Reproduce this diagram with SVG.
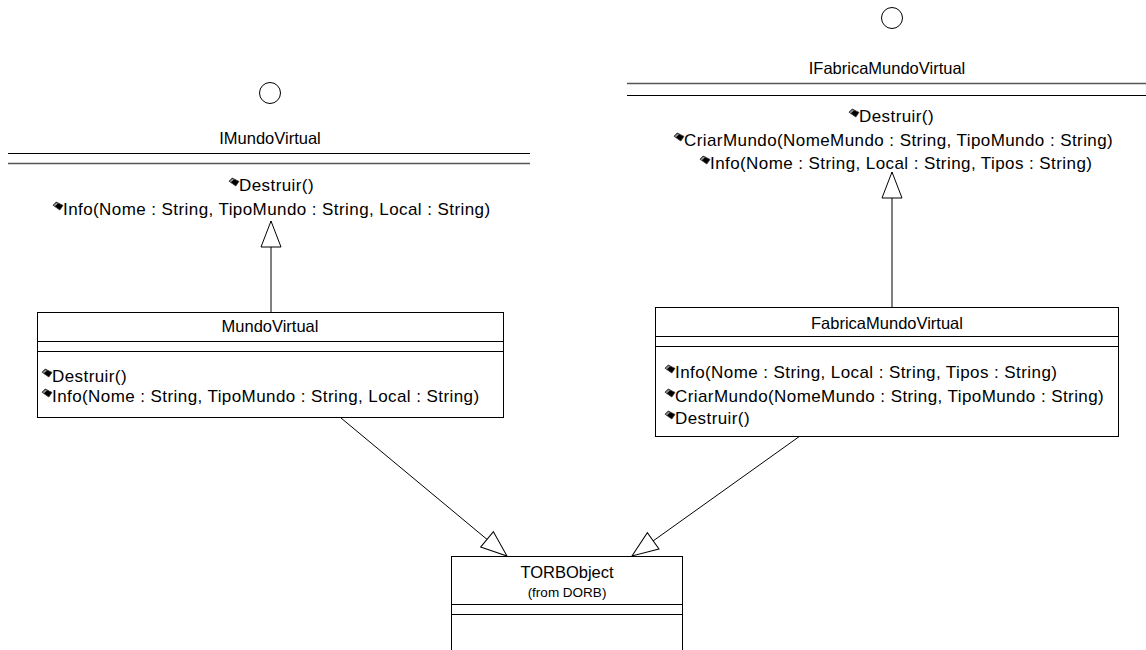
<svg xmlns="http://www.w3.org/2000/svg" width="1146" height="650" viewBox="0 0 1146 650">
<style>
text{font-family:"Liberation Sans",Arial,sans-serif;font-size:16.5px;fill:#000}
.c{text-anchor:middle}
.m{font-size:17px;letter-spacing:0.42px}
.s{font-size:13.5px}
.box{fill:#fff;stroke:#000;stroke-width:1}
.ln{stroke:#000;stroke-width:1;fill:none}
.ln2{stroke:#555;stroke-width:1.5;fill:none}
.edge{stroke:#000;stroke-width:1;fill:none;marker-end:url(#gen)}
</style>
<defs>
<marker id="gen" viewBox="0 0 28 22" markerWidth="28" markerHeight="22" refX="27" refY="11" markerUnits="userSpaceOnUse" orient="auto" overflow="visible">
<path d="M1,1 L27,11 L1,21 Z" fill="#fff" stroke="#000" stroke-width="1"/>
</marker>
<g id="op">
<path d="M0,3.2 L3.2,0 L10,3.4 L6.8,8 Z" fill="#000" stroke="#333" stroke-width="0.8" stroke-linejoin="round"/>
<path d="M0.6,3.2 L3.2,0.7 L5,1.6 L2,4.3 Z" fill="#999"/>
</g>
</defs>
<g id="connectors">
<line class="edge" x1="271" y1="312" x2="271" y2="221"/>
<line class="edge" x1="892" y1="307" x2="892" y2="172"/>
<line class="edge" x1="341" y1="418" x2="507" y2="556"/>
<line class="edge" x1="800" y1="436" x2="632" y2="556"/>
</g>
<g id="IMundoVirtual">
<circle cx="270" cy="93" r="10.5" fill="#fff" stroke="#000"/>
<text class="c" x="270" y="144">IMundoVirtual</text>
<line class="ln" x1="8" y1="153.5" x2="530" y2="153.5"/>
<line class="ln2" x1="8" y1="163.5" x2="530" y2="163.5"/>
<use href="#op" x="229" y="178"/>
<text class="m" x="239" y="191">Destruir()</text>
<use href="#op" x="53" y="202"/>
<text class="m" x="63" y="215">Info(Nome : String, TipoMundo : String, Local : String)</text>
</g>
<g id="IFabricaMundoVirtual">
<circle cx="892" cy="18" r="10.5" fill="#fff" stroke="#000"/>
<text class="c" x="887" y="74">IFabricaMundoVirtual</text>
<line class="ln2" x1="627" y1="83.5" x2="1146" y2="83.5"/>
<line class="ln" x1="627" y1="95.5" x2="1146" y2="95.5"/>
<use href="#op" x="849" y="109"/>
<text class="m" x="859" y="122">Destruir()</text>
<use href="#op" x="674" y="133"/>
<text class="m" x="684" y="146">CriarMundo(NomeMundo : String, TipoMundo : String)</text>
<use href="#op" x="700" y="156"/>
<text class="m" x="710" y="169">Info(Nome : String, Local : String, Tipos : String)</text>
</g>
<g id="MundoVirtual">
<rect class="box" x="37.5" y="312.5" width="466" height="105"/>
<line class="ln" x1="37.5" y1="341.5" x2="503.5" y2="341.5"/>
<line class="ln" x1="37.5" y1="351.5" x2="503.5" y2="351.5"/>
<text class="c" x="270" y="332">MundoVirtual</text>
<use href="#op" x="42" y="369"/>
<text class="m" x="52" y="382">Destruir()</text>
<use href="#op" x="42" y="389"/>
<text class="m" x="52" y="402">Info(Nome : String, TipoMundo : String, Local : String)</text>
</g>
<g id="FabricaMundoVirtual">
<rect class="box" x="655.5" y="307.5" width="463" height="129"/>
<line class="ln" x1="655.5" y1="336.5" x2="1118.5" y2="336.5"/>
<line class="ln" x1="655.5" y1="346.5" x2="1118.5" y2="346.5"/>
<text class="c" x="887" y="329">FabricaMundoVirtual</text>
<use href="#op" x="665" y="365"/>
<text class="m" x="675" y="378">Info(Nome : String, Local : String, Tipos : String)</text>
<use href="#op" x="665" y="389"/>
<text class="m" x="675" y="402">CriarMundo(NomeMundo : String, TipoMundo : String)</text>
<use href="#op" x="665" y="411"/>
<text class="m" x="675" y="424">Destruir()</text>
</g>
<g id="TORBObject">
<rect class="box" x="451.5" y="556.5" width="231" height="110"/>
<line class="ln" x1="451.5" y1="604.5" x2="682.5" y2="604.5"/>
<line class="ln" x1="451.5" y1="614.5" x2="682.5" y2="614.5"/>
<text class="c" x="567" y="578">TORBObject</text>
<text class="c s" x="567" y="597">(from DORB)</text>
</g>
</svg>
